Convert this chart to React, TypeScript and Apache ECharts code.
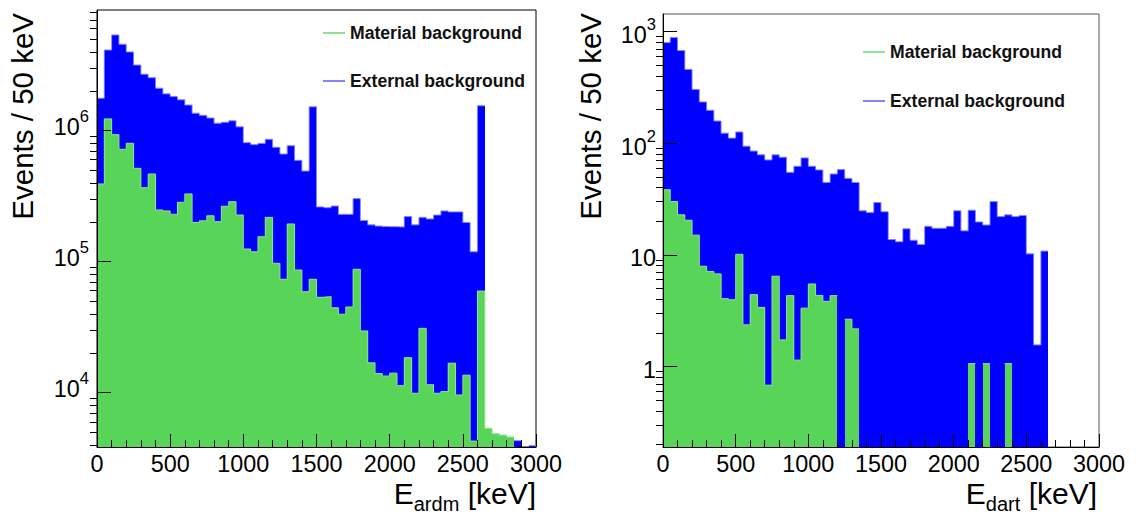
import React, { useEffect, useRef } from 'react';
import * as echarts from 'echarts';

// ---------------- data (counts per 50 keV bin, 0..3000 keV, 60 bins) ----------------
const BIN_WIDTH = 50;
const X_MIN = 0;
const X_MAX = 3000;
const X_INTERVAL = 500;

const ARDM_EXTERNAL: (number | null)[] = [
  1.77e6, 4.13e6, 5.38e6, 4.57e6, 3.99e6, 3.17e6, 2.70e6, 2.54e6, 2.11e6, 1.91e6,
  1.82e6, 1.72e6, 1.57e6, 1.36e6, 1.31e6, 1.25e6, 1.14e6, 1.16e6, 1.19e6, 1.07e6,
  8.10e5, 7.82e5, 8.00e5, 8.60e5, 7.47e5, 6.64e5, 7.68e5, 5.94e5, 4.92e5, 1.52e6,
  2.62e5, 2.58e5, 2.66e5, 2.30e5, 2.30e5, 3.03e5, 2.06e5, 1.91e5, 1.87e5, 1.85e5,
  1.85e5, 1.84e5, 2.21e5, 1.91e5, 2.18e5, 2.12e5, 2.27e5, 2.44e5, 2.40e5, 2.40e5,
  1.99e5, 1.19e5, 1.55e6, null, null, null, null, 4.3e3, null, 3.94e3,
];
const ARDM_MATERIAL: (number | null)[] = [
  3.92e5, 1.23e6, 9.32e5, 7.21e5, 8.01e5, 5.16e5, 3.67e5, 4.67e5, 2.48e5, 2.44e5,
  2.30e5, 2.84e5, 3.29e5, 1.99e5, 2.05e5, 2.24e5, 2.02e5, 2.65e5, 2.87e5, 2.27e5,
  1.25e5, 1.19e5, 1.55e5, 2.18e5, 9.72e4, 7.34e4, 1.94e5, 8.64e4, 5.90e4, 7.34e4,
  5.35e4, 5.41e4, 4.45e4, 3.97e4, 4.51e4, 8.75e4, 2.96e4, 1.69e4, 1.40e4, 1.34e4,
  1.41e4, 1.13e4, 1.85e4, 9.9e3, 3.10e4, 1.15e4, 9.9e3, 1.02e4, 1.68e4, 9.6e3,
  1.36e4, 4.27e3, 5.97e4, 5.35e3, 4.86e3, 4.75e3, 4.59e3, null, null, null,
];
const DART_EXTERNAL: (number | null)[] = [
  796, 883, 675, 458, 303, 234, 197, 158, 123, 111,
  126, 94, 85, 78.6, 70.8, 78.6, 74.8, 54.8, 62.1, 73.8,
  62.1, 57.6, 44.5, 53, 58, 48.4, 44.5, 24.8, 23.9, 29.4,
  24.3, 13.7, 13.1, 17.1, 13.5, 12.4, 18.0, 17.3, 17.3, 18.0,
  24.8, 16.4, 25.1, 19.7, 18.5, 30, 22, 22.8, 22, 22.5,
  10.2, 1.56, 10.8, null, null, null, null, null, null, null,
];
const DART_MATERIAL: (number | null)[] = [
  38.3, 30, 22.8, 20.4, 15.0, 7.9, 7.1, 6.75, 4.05, 3.96,
  10.1, 2.36, 4.4, 3.38, 0.68, 6.43, 1.73, 4.31, 1.14, 3.33,
  5.48, 4.33, 3.83, 4.31, null, 2.65, 2.17, null, null, null,
  null, null, null, null, null, null, null, null, null, null,
  null, null, 1.06, null, 1.06, null, null, 1.06, null, null,
  null, null, null, null, null, null, null, null, null, null,
];

const ARDM_Y_RANGE = [3850, 8.34e6];
const DART_Y_RANGE = [0.19, 1435];
const ARDM_Y_MAJOR = [1e4, 1e5, 1e6];
const DART_Y_MAJOR = [1, 10, 100, 1000];

const SERIES_NAMES = ['External background', 'Material background'];
const BLUE = '#0000FF';
const GREEN = '#58D458';
const BLUE_LINE = '#8484FF';
const GREEN_LINE = '#8EE48E';
const FONT = '"Liberation Sans", Arial, Helvetica, sans-serif';

// minor log ticks (2..9 per decade) inside a range
function minorTicks(range: number[]): number[] {
  const out: number[] = [];
  const lo = Math.floor(Math.log10(range[0]));
  const hi = Math.ceil(Math.log10(range[1]));
  for (let e = lo; e <= hi; e++) {
    for (let m = 2; m <= 9; m++) {
      const v = m * Math.pow(10, e);
      if (v >= range[0] && v <= range[1]) out.push(v);
    }
  }
  return out;
}

function histData(values: (number | null)[]) {
  const out: number[][] = [];
  values.forEach((v, i) => {
    if (v != null && v > 0) out.push([i * BIN_WIDTH, (i + 1) * BIN_WIDTH, v]);
  });
  return out;
}

// step outline of a histogram (top edges + risers), broken at empty bins
function outlineData(values: (number | null)[]) {
  const out: any[] = [];
  values.forEach((v, i) => {
    if (v != null && v > 0) {
      out.push([i * BIN_WIDTH, v], [(i + 1) * BIN_WIDTH, v]);
    } else if (out.length && out[out.length - 1][1] !== '-') {
      out.push([i * BIN_WIDTH, '-']);
    }
  });
  return out;
}

function histRenderer(color: string) {
  return (params: any, api: any) => {
    const v = api.value(2);
    if (!(v > 0)) return null;
    const a = api.coord([api.value(0), v]);
    const b = api.coord([api.value(1), v]);
    const cs = params.coordSys;
    const bottom = cs.y + cs.height;
    const top = Math.min(Math.max(a[1], cs.y), bottom);
    const x0 = Math.round(a[0]);
    const x1 = Math.round(b[0]);
    return {
      type: 'rect',
      shape: { x: x0, y: top, width: x1 - x0, height: bottom - top },
      style: { fill: color },
    };
  };
}

function powLabel(v: number) {
  const e = Math.round(Math.log10(v));
  if (e === 0) return '{b|1}';
  if (e === 1) return '{b|10}';
  return `{b|10}{s|${e}}`;
}

const labelRich = {
  b: { fontSize: 23.4, fontFamily: FONT, color: '#000', lineHeight: 26, verticalAlign: 'bottom' },
  s: { fontSize: 16.5, fontFamily: FONT, color: '#000', lineHeight: 16, padding: [0, 0, 14, 0], verticalAlign: 'bottom' },
};

function xAxisFor(g: number) {
  return {
    type: 'value',
    gridIndex: g,
    min: X_MIN,
    max: X_MAX,
    interval: X_INTERVAL,
    z: 6,
    axisLine: { show: true, onZero: false, lineStyle: { color: '#000', width: 1 } },
    axisTick: { show: true, inside: true, length: 13, lineStyle: { color: '#000', width: 1 } },
    minorTick: { show: true, splitNumber: 5, length: 7, lineStyle: { color: '#000', width: 1 } },
    axisLabel: {
      show: true,
      margin: 5,
      fontSize: 23.4,
      fontFamily: FONT,
      color: '#000',
      hideOverlap: false,
      formatter: (v: number) => String(v),
    },
    splitLine: { show: false },
    minorSplitLine: { show: false },
  };
}

function yAxesFor(g: number, range: number[], majors: number[], margin: number, pad: number[]) {
  return [
    {
      type: 'log',
      logBase: 10,
      gridIndex: g,
      min: range[0],
      max: range[1],
      z: 6,
      axisLine: { show: true, onZero: false, lineStyle: { color: '#000', width: 1 } },
      axisTick: { show: true, inside: true, length: 14, customValues: majors, lineStyle: { color: '#000', width: 1 } },
      axisLabel: {
        show: true,
        customValues: majors,
        formatter: powLabel,
        margin,
        padding: pad,
        rich: labelRich,
        hideOverlap: false,
      },
      splitLine: { show: false },
      minorTick: { show: false },
    },
    {
      type: 'log',
      logBase: 10,
      gridIndex: g,
      min: range[0],
      max: range[1],
      z: 6,
      axisLine: { show: false },
      axisTick: { show: true, inside: true, length: 7, customValues: minorTicks(range), lineStyle: { color: '#000', width: 1 } },
      axisLabel: { show: false },
      splitLine: { show: false },
      minorTick: { show: false },
    },
  ];
}

function fillSeries(g: number, name: string, values: (number | null)[], color: string, z: number) {
  return {
    type: 'custom',
    name,
    coordinateSystem: 'cartesian2d',
    xAxisIndex: g,
    yAxisIndex: g * 2,
    renderItem: histRenderer(color),
    data: histData(values),
    encode: { x: [0, 1], y: 2 },
    itemStyle: { color },
    clip: true,
    silent: true,
    z,
  };
}

function lineSeries(g: number, values: (number | null)[], color: string, z: number) {
  return {
    type: 'line',
    xAxisIndex: g,
    yAxisIndex: g * 2,
    data: outlineData(values),
    showSymbol: false,
    symbol: 'none',
    connectNulls: false,
    clip: true,
    silent: true,
    lineStyle: { color, width: 1 },
    z,
  };
}

function histSeries(g: number, ext: (number | null)[], mat: (number | null)[]) {
  return [
    fillSeries(g, SERIES_NAMES[0], ext, BLUE, 2),
    lineSeries(g, ext, BLUE_LINE, 3),
    fillSeries(g, SERIES_NAMES[1], mat, GREEN, 4),
    lineSeries(g, mat, GREEN_LINE, 5),
  ];
}

function legendFor(left: number, top: number, gap: number) {
  return {
    orient: 'vertical',
    left,
    top,
    itemGap: gap,
    itemWidth: 22,
    itemHeight: 2,
    selectedMode: false,
    padding: 0,
    textStyle: { fontSize: 17.6, fontWeight: 'bold', fontFamily: FONT, color: '#111' },
    data: [
      { name: SERIES_NAMES[1], icon: 'rect', itemStyle: { color: GREEN_LINE } },
      { name: SERIES_NAMES[0], icon: 'rect', itemStyle: { color: BLUE_LINE } },
    ],
  };
}

function xTitle(right: number, sub: string) {
  return {
    type: 'text',
    x: right,
    y: 478,
    style: {
      text: `{e|E}{s|${sub}}{e| [keV]}`,
      align: 'right',
      verticalAlign: 'top',
      rich: {
        e: { fontSize: 30, fontFamily: FONT, fill: '#000', lineHeight: 30, verticalAlign: 'top' },
        s: { fontSize: 20, fontFamily: FONT, fill: '#000', padding: [16, 0, 0, 0], verticalAlign: 'bottom' },
      },
    },
  };
}

function yTitle(x: number) {
  return {
    type: 'text',
    x,
    y: 13,
    rotation: Math.PI / 2,
    style: {
      text: 'Events / 50 keV',
      fontSize: 29.5,
      fontFamily: FONT,
      fill: '#000',
      align: 'right',
      verticalAlign: 'middle',
    },
  };
}

export default function App() {
  const ref = useRef<HTMLDivElement>(null);
  useEffect(() => {
    if (!ref.current) return;
    const chart = echarts.init(ref.current, null, { renderer: 'svg' });
    chart.setOption({
      animation: false,
      backgroundColor: '#fff',
      grid: [
        { left: 97, top: 10, width: 439, height: 437, show: true, borderColor: '#000', borderWidth: 1, backgroundColor: 'transparent' },
        { left: 663, top: 14, width: 436, height: 433, show: true, borderColor: '#555', borderWidth: 1, backgroundColor: 'transparent' },
      ],
      xAxis: [xAxisFor(0), xAxisFor(1)],
      yAxis: [
        ...yAxesFor(0, ARDM_Y_RANGE, ARDM_Y_MAJOR, 8, [0, 0, 10, 0]),
        ...yAxesFor(1, DART_Y_RANGE, DART_Y_MAJOR, 7, [4, 0, 0, 0]),
      ],
      legend: [legendFor(323, 24, 30), legendFor(863, 43, 31)],
      series: [...histSeries(0, ARDM_EXTERNAL, ARDM_MATERIAL), ...histSeries(1, DART_EXTERNAL, DART_MATERIAL)],
      graphic: [yTitle(22), yTitle(590), xTitle(536, 'ardm'), xTitle(1097, 'dart')],
    });
    return () => chart.dispose();
  }, []);
  return (
    <div
      ref={ref}
      style={{ position: 'absolute', left: 0, top: 0, width: 1136, height: 516, background: '#fff' }}
    />
  );
}
